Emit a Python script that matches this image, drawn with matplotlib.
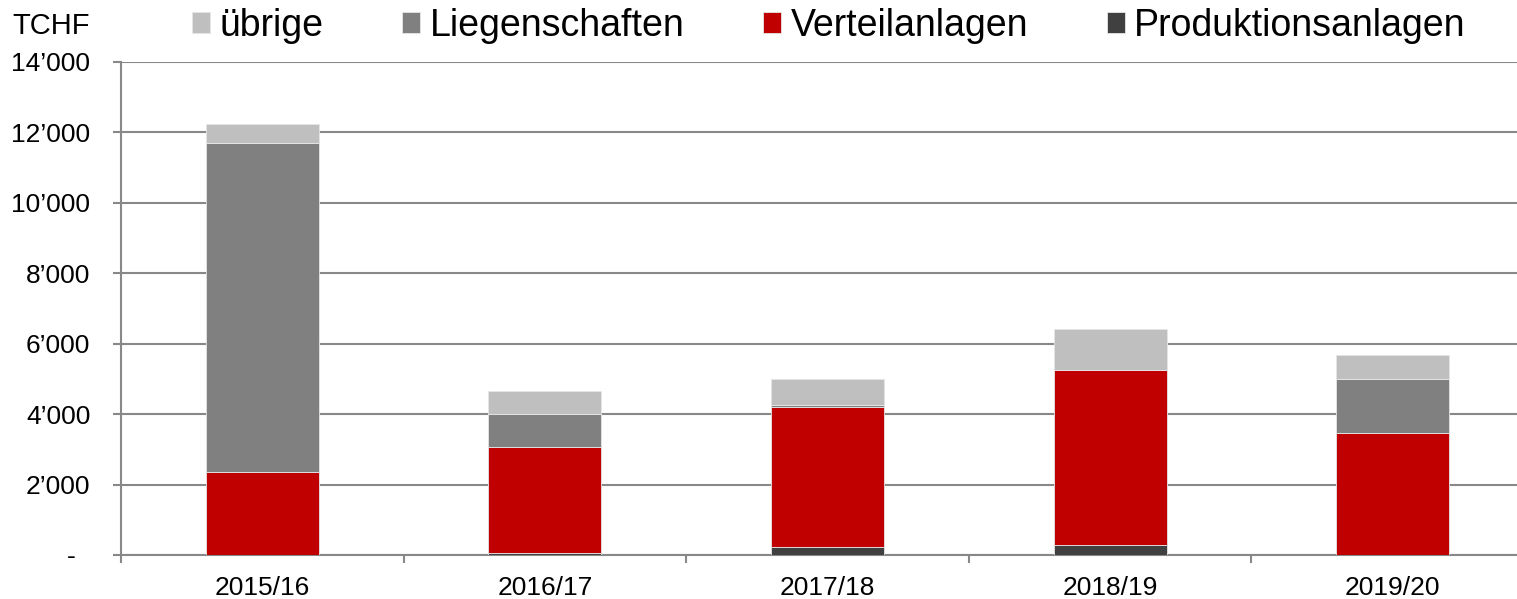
import numpy as np
import matplotlib
matplotlib.use('Agg')
import matplotlib.pyplot as plt
from matplotlib.ticker import FuncFormatter

plt.rcParams['font.family'] = ['Liberation Sans', 'DejaVu Sans']

jahre = ['2015/16', '2016/17', '2017/18', '2018/19', '2019/20']
produktion = [0, 70, 220, 280, 0]
verteil = [2360, 3000, 3980, 4960, 3460]
liegenschaften = [9340, 930, 70, 0, 1540]
uebrige = [540, 660, 720, 1180, 680]

farben = {'übrige': '#BFBFBF', 'Liegenschaften': '#808080',
          'Verteilanlagen': '#C00000', 'Produktionsanlagen': '#404040'}

fig = plt.figure(figsize=(15.17, 5.99), dpi=100)
ax = fig.add_axes([121/1517, 1-555/599, 1-121/1517, (555-62)/599])

x = np.arange(len(jahre))
w = 0.40
unten = np.zeros(len(jahre))
bars = {}
for name, werte in [('Produktionsanlagen', produktion), ('Verteilanlagen', verteil),
                    ('Liegenschaften', liegenschaften), ('übrige', uebrige)]:
    bars[name] = ax.bar(x, werte, w, bottom=unten, color=farben[name],
                        edgecolor='#E6E6E6', linewidth=0.6, zorder=3)
    unten = unten + np.array(werte)

ax.set_yticks(np.arange(0, 14001, 2000))

def fmt(v, pos):
    if v == 0:
        return '-  '
    return '{:,.0f}'.format(v).replace(',', '\u2019')

ax.yaxis.set_major_formatter(FuncFormatter(fmt))
ax.yaxis.grid(True, color='#888888', linewidth=1.5, zorder=0)
ax.set_axisbelow(True)

ax.set_xticks(x)
ax.set_xticklabels(jahre)
ax.set_xticks(np.arange(-0.5, 4.5, 1), minor=True)
ax.tick_params(axis='x', which='major', length=0, pad=15, labelsize=19)
ax.tick_params(axis='x', which='minor', length=6, width=1.5, color='#888888')
ax.tick_params(axis='y', length=6, width=1.5, color='#888888', pad=16, labelsize=19)

# Grenzen erst nach den Ticks setzen
ax.set_ylim(0, 14000)
ax.set_xlim(-0.5, 4.44)

for s in ['top', 'right']:
    ax.spines[s].set_visible(False)
for s in ['left', 'bottom']:
    ax.spines[s].set_color('#888888')
    ax.spines[s].set_linewidth(1.5)

fig.text(12/1517, 1-26/599, 'TCHF', va='center', ha='left', fontsize=21)

reihenfolge = ['übrige', 'Liegenschaften', 'Verteilanlagen', 'Produktionsanlagen']
leg = fig.legend([bars[n] for n in reihenfolge], reihenfolge, loc='center',
                 bbox_to_anchor=(829/1517, 1-26/599), ncol=4, frameon=False,
                 fontsize=27, handlelength=0.48, handleheight=0.48,
                 handletextpad=0.25, columnspacing=2.1, borderpad=0)

fig.savefig('out.png', dpi=100)
